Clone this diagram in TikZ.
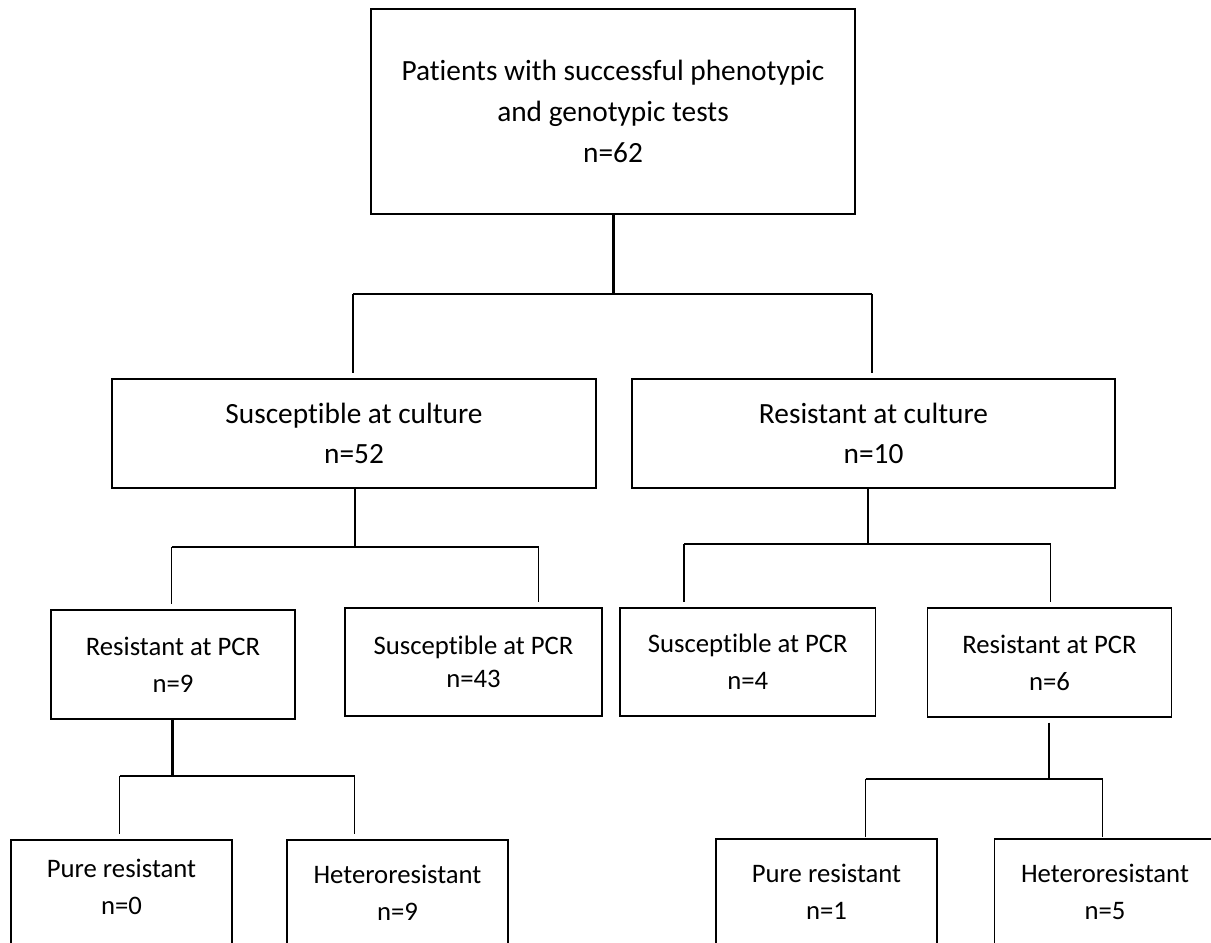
\documentclass[tikz,border=0pt]{standalone}
\usepackage{fontspec}
\setmainfont[Ligatures=NoCommon]{Carlito}

\begin{document}
\begin{tikzpicture}[
    box/.style={draw, rectangle, line width=0.9pt, align=center, inner sep=0pt},
    bigtext/.style={font=\fontsize{16.7}{23.2}\selectfont},
    smalltext/.style={font=\fontsize{15.2}{21}\selectfont},
    lowbox/.style={box, smalltext, anchor=north, minimum width=4.42cm, inner ysep=0.5cm, text depth=2.5cm},
    link/.style={line width=0.8pt},
    stem/.style={line width=1.7pt},
    midstem/.style={line width=1.15pt},
    stopshort/.style={shorten >=0.1cm}
]

    % Page frame
    \fill[white] (0,0) rectangle (24.22,-18.86);
    \useasboundingbox (0,0) rectangle (24.22,-18.86);
    \clip (0,0) rectangle (24.22,-18.86);

    % Top box
    \node[box, bigtext, minimum width=9.68cm, minimum height=4.10cm] (patients) at (12.26,-2.23) {Patients with successful phenotypic\\and genotypic tests\\n=62};

    % Culture results
    \node[box, bigtext, minimum width=9.68cm, minimum height=2.18cm] (suscult) at (7.08,-8.67) {Susceptible at culture\\n=52};
    \node[box, bigtext, minimum width=9.66cm, minimum height=2.18cm] (rescult) at (17.47,-8.67) {Resistant at culture\\n=10};

    % PCR results
    \node[box, smalltext, minimum width=4.88cm, minimum height=2.18cm] (respcrL) at (3.46,-13.29) {Resistant at PCR\\n=9};
    \node[box, smalltext, minimum width=5.14cm, minimum height=2.16cm] (suspcrL) at (9.47,-13.24) {Susceptible at PCR\\[-0.09cm]n=43};
    \node[box, smalltext, minimum width=5.11cm, minimum height=2.16cm] (suspcrR) at (14.955,-13.24) {Susceptible at PCR\\n=4};
    \node[box, smalltext, minimum width=4.88cm, minimum height=2.17cm] (respcrR) at (20.99,-13.25) {Resistant at PCR\\n=6};

    % Kind of resistance
    \node[lowbox, inner ysep=0.38cm] (pureL) at (2.43,-16.78) {Pure resistant\\n=0};
    \node[lowbox] (heteroL) at (7.95,-16.78) {Heteroresistant\\n=9};
    \node[lowbox] (pureR) at (16.53,-16.76) {Pure resistant\\n=1};
    \node[lowbox] (heteroR) at (22.10,-16.76) {Heteroresistant\\n=5};

    % Split points
    \coordinate (a1) at (7.06,-5.88);
    \coordinate (a2) at (17.44,-5.88);
    \coordinate (b0) at (7.10,-10.94);
    \coordinate (b1) at (3.43,-10.94);
    \coordinate (b2) at (10.77,-10.94);
    \coordinate (c0) at (17.35,-10.88);
    \coordinate (c1) at (13.68,-10.88);
    \coordinate (c2) at (21.01,-10.88);
    \coordinate (d0) at (3.45,-15.52);
    \coordinate (d1) at (2.39,-15.52);
    \coordinate (d2) at (7.09,-15.52);
    \coordinate (g0) at (20.98,-15.58);
    \coordinate (g1) at (17.31,-15.58);
    \coordinate (g2) at (22.05,-15.58);

    % Patients -> culture
    \draw[stem] (patients.south) -- (patients.south |- a1);
    \draw[link] (a1) -- (a2);
    \draw[link, stopshort] (a1) -- (a1 |- suscult.north);
    \draw[link, stopshort] (a2) -- (a2 |- rescult.north);

    % Susceptible at culture -> PCR
    \draw[midstem] (suscult.south -| b0) -- (b0);
    \draw[link] (b1) -- (b2);
    \draw[link, stopshort] (b1) -- (b1 |- respcrL.north);
    \draw[link, stopshort] (b2) -- (b2 |- suspcrL.north);

    % Resistant at culture -> PCR
    \draw[midstem] (rescult.south -| c0) -- (c0);
    \draw[link] (c1) -- (c2);
    \draw[link, stopshort] (c1) -- (c1 |- suspcrR.north);
    \draw[link, stopshort] (c2) -- (c2 |- respcrR.north);

    % Resistant at PCR (left) -> kind
    \draw[stem] (respcrL.south -| d0) -- (d0);
    \draw[link] (d1) -- (d2);
    \draw[link, stopshort] (d1) -- (d1 |- pureL.north);
    \draw[link, stopshort] (d2) -- (d2 |- heteroL.north);

    % Resistant at PCR (right) -> kind
    \draw[midstem, shorten <=0.1cm] (respcrR.south -| g0) -- (g0);
    \draw[link] (g1) -- (g2);
    \draw[link, shorten >=0.03cm] (g1) -- (g1 |- pureR.north);
    \draw[link, shorten >=0.03cm] (g2) -- (g2 |- heteroR.north);

\end{tikzpicture}
\end{document}
